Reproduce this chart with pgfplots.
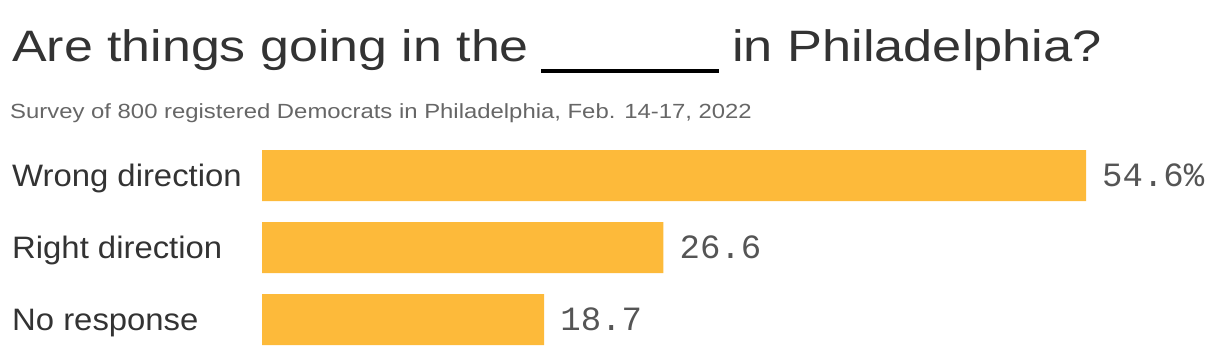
\documentclass[border=0pt]{standalone}
\usepackage{pgfplots}
\pgfplotsset{compat=1.18}
\usepackage{pgfplotstable}
\usepackage{fontspec}
\setmainfont{Liberation Sans}
\newfontfamily\monofont{Liberation Mono}
\definecolor{barc}{HTML}{FDBA3A}
\definecolor{titlec}{HTML}{333333}
\definecolor{subc}{HTML}{666666}
\definecolor{valc}{HTML}{555555}
\pgfplotstableread{
y x label
0 54.6 54.6\%
1 26.6 26.6
2 18.7 18.7
}\datatable
\newcommand{\wx}[1]{\scalebox{1.06}[1]{#1}}
\begin{document}
\begin{tikzpicture}[x=1pt,y=1pt]
\path[use as bounding box] (0,0) rectangle (1220,356);
\node[anchor=base west, inner sep=0, font=\fontsize{44}{48}\selectfont, text=titlec] at (12,294) {\scalebox{1.18}[1]{Are things going in the}};
\fill[black] (541,283) rectangle (719,286.5);
\node[anchor=base west, inner sep=0, font=\fontsize{44}{48}\selectfont, text=titlec] at (732,294) {\scalebox{1.19}[1]{in Philadelphia?}};
\node[anchor=base west, inner sep=0, font=\fontsize{20.5}{23}\selectfont, text=subc] at (10,237) {\scalebox{1.165}[1]{Survey of 800 registered Democrats in Philadelphia, Feb. 14-17, 2022}};
\begin{axis}[
  at={(262pt,0.5pt)}, anchor=south west,
  scale only axis, width=824pt, height=216pt,
  xmin=0, xmax=54.6, ymin=-0.5, ymax=2.5, y dir=reverse,
  axis line style={draw=none}, major tick length=0pt,
  xtick=\empty, ytick={0,1,2},
  yticklabels={\wx{Wrong direction}, \wx{Right direction}, \wx{No response}},
  yticklabel style={anchor=base west, xshift=-250pt, yshift=-10.5pt, inner sep=0pt, font=\fontsize{31}{34}\selectfont, text=titlec},
  clip=false,
  xbar, bar width=51pt,
  nodes near coords={\pgfplotspointmeta},
  point meta=explicit symbolic,
  every node near coord/.style={anchor=base west, xshift=16pt, yshift=-10.5pt, inner sep=0pt, font=\monofont\fontsize{34}{37}\selectfont, text=valc},
]
\addplot[fill=barc, draw=none] table[x=x, y=y, meta=label] {\datatable};
\end{axis}
\end{tikzpicture}
\end{document}
